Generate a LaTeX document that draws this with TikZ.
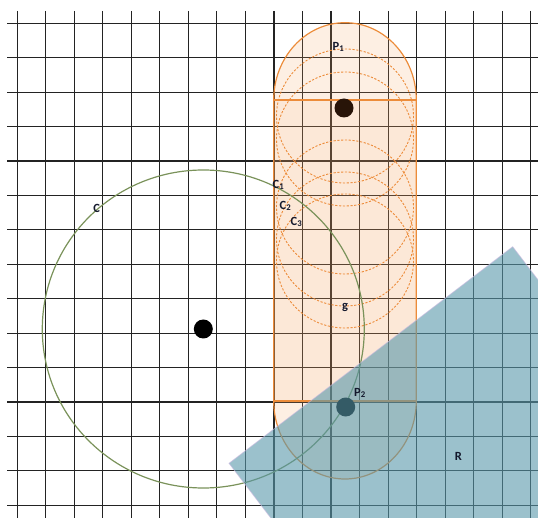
\documentclass[tikz,border=0pt]{standalone}
\usepackage{fontspec}
\setmainfont{Carlito}
\definecolor{gridc}{RGB}{35,35,35}
\definecolor{cgreen}{RGB}{122,146,90}
\definecolor{caporange}{RGB}{236,140,58}
\definecolor{capfill}{RGB}{245,165,100}
\definecolor{rblue}{RGB}{88,152,170}
\definecolor{redge}{RGB}{205,185,225}
\definecolor{lbl}{RGB}{20,25,45}
\begin{document}
\begin{tikzpicture}[x=1pt,y=-1pt,
  gridline/.style={draw=gridc,line width=1.1pt},
  dotc/.style={circle,fill=black,inner sep=0pt,minimum size=19pt},
  lab/.style={font=\fontsize{12.5}{13}\selectfont\bfseries,text=lbl,inner sep=0pt},
  dashc/.style={draw=caporange,dash pattern=on 2.2pt off 1.6pt,line width=0.9pt}]
\useasboundingbox (0,0) rectangle (538,518);
\clip (0,0) rectangle (538,518);
% grid
\foreach \i in {0,...,18}{\draw[gridline] ({17.3+28.52*\i},11) -- ({17.3+28.52*\i},518);}
\foreach \j in {0,...,14}{\draw[gridline] (7,{23.3+34.43*\j}) -- (538,{23.3+34.43*\j});}
% capsule
\fill[capfill,opacity=0.26] (273.7,100) rectangle (416.3,400.7);
\fill[capfill,opacity=0.18] (273.7,100) arc[start angle=180,end angle=0,x radius=71.3,y radius=-77.3] -- cycle;
\fill[capfill,opacity=0.18] (273.7,400.7) arc[start angle=180,end angle=360,x radius=71.3,y radius=-78.3] -- cycle;
\foreach \c in {116,139,207,239,261}{\draw[dashc] (345,\c) ellipse[x radius=68.5,y radius=67];}
\draw[caporange,line width=1.2pt] (273.7,400.7) -- (273.7,100) arc[start angle=180,end angle=0,x radius=71.3,y radius=-77.3] -- (416.3,400.7) arc[start angle=0,end angle=-180,x radius=71.3,y radius=-78.3];
\draw[caporange,line width=1.8pt] (273.7,100) -- (416.3,100);
\draw[caporange,line width=1.8pt] (273.7,400.7) -- (416.3,400.7);
% circle C
\draw[cgreen,line width=1.2pt] (203.3,329) ellipse[x radius=161,y radius=159];
% dots
\node[dotc] (m) at (203.3,329) {};
\node[dotc,fill={rgb,255:red,40;green,20;blue,8}] (p1) at (344,108) {};
\node[dotc] (p2) at (345.7,407) {};
% region R
\fill[rblue,opacity=0.6,draw=redge,line width=0.8pt] (229,463.3) -- (512.7,246.7) -- (755.7,564.7) -- (472,781.3) -- cycle;
% labels
\node[lab] (lC) at (96.7,208.3) {C};
\node[lab] (lP1) at (338.5,47) {P\textsubscript{1}};
\node[lab] (lC1) at (278.5,185) {C\textsubscript{1}};
\node[lab] (lC2) at (285.5,206) {C\textsubscript{2}};
\node[lab] (lC3) at (296.5,222) {C\textsubscript{3}};
\node[lab] (lg) at (345,307) {g};
\node[lab] (lP2) at (360,393) {P\textsubscript{2}};
\node[lab] (lR) at (458.3,456) {R};
\end{tikzpicture}
\end{document}
